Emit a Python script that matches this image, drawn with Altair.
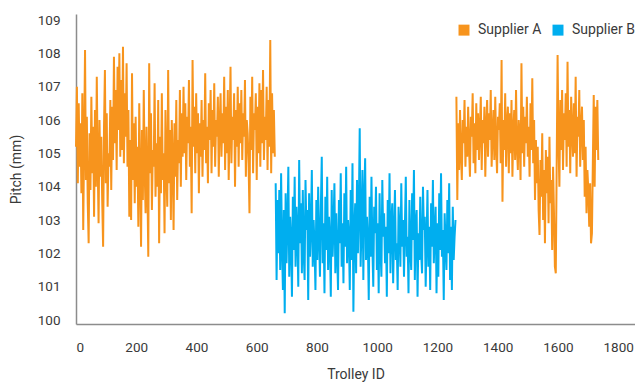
import altair as alt
import pandas as pd

# Supplier A, Trolley IDs 0..660 (step 3)
a1_pitch = [
    105.2, 107.0, 104.1, 106.5, 104.6, 105.9, 103.8, 106.8, 102.7, 105.4,
    108.1, 104.2, 106.1, 103.5, 102.3, 105.6, 103.9, 106.7, 104.4, 105.8,
    103.1, 106.3, 104.0, 107.3, 104.7, 102.9, 106.0, 104.3, 105.5, 103.6,
    102.2, 105.8, 107.5, 104.1, 106.2, 103.4, 105.0, 104.6, 106.6, 103.9,
    106.4, 104.8, 107.9, 105.3, 106.9, 104.5, 107.6, 105.7, 108.0, 104.9,
    107.2, 105.1, 108.2, 104.7, 106.8, 105.5, 107.7, 104.6, 106.3, 103.1,
    105.4, 103.0, 107.4, 104.2, 105.9, 103.5, 106.1, 104.0, 105.2, 102.8,
    106.5, 104.3, 102.2, 105.7, 103.6, 106.9, 104.5, 103.2, 105.8, 104.1,
    101.9, 107.7, 104.4, 106.2, 103.3, 105.1, 104.6, 107.1, 103.7, 105.3,
    104.0, 106.6, 102.3, 105.5, 103.8, 106.8, 104.2, 105.0, 102.6, 106.3,
    104.5, 103.4, 107.5, 104.1, 105.7, 103.0, 106.0, 104.8, 102.7, 105.9,
    104.3, 106.6, 103.6, 105.4, 104.7, 106.9, 104.0, 106.2, 104.9, 107.0,
    105.0, 106.5, 104.2, 106.1, 105.3, 107.2, 104.6, 105.8, 103.2, 107.8,
    105.2, 106.4, 104.4, 106.8, 105.0, 106.2, 103.8, 105.9, 104.9, 106.6,
    104.3, 106.0, 105.1, 107.4, 104.7, 105.8, 104.1, 106.5, 105.4, 106.9,
    104.4, 106.3, 105.2, 107.1, 104.6, 106.0, 105.5, 106.7, 104.3, 105.9,
    106.8, 104.9, 106.2, 105.3, 107.3, 104.5, 106.4, 105.0, 106.9, 104.2,
    105.8, 107.6, 104.7, 106.1, 105.4, 106.8, 104.0, 106.3, 105.2, 107.0,
    104.6, 106.5, 105.3, 106.9, 104.8, 106.2, 105.5, 107.2, 104.3, 106.0,
    105.6, 104.7, 103.2, 106.7, 105.1, 107.3, 104.4, 106.2, 105.7, 106.8,
    104.2, 106.4, 105.0, 107.1, 104.6, 106.9, 105.3, 107.5, 104.8, 106.1,
    105.4, 107.0, 104.5, 106.6, 105.2, 108.4, 104.4, 106.8, 105.0, 106.3, 104.9,
]

# Supplier B, Trolley IDs 663..1260 (step 3)
b_pitch = [
    104.1, 101.2, 103.6, 102.0, 103.9, 101.5, 104.4, 102.2, 100.9, 103.3,
    100.2, 103.8, 101.7, 102.9, 104.6, 101.3, 103.1, 102.4, 100.7, 103.7,
    102.1, 104.3, 101.6, 103.4, 102.6, 101.0, 104.8, 102.3, 103.5, 101.4,
    103.9, 102.0, 101.2, 104.2, 102.7, 103.3, 100.6, 103.8, 101.9, 102.8,
    104.5, 101.6, 103.0, 102.2, 100.9, 103.6, 101.8, 104.0, 102.5, 101.3,
    103.4, 104.9, 101.7, 102.9, 100.8, 103.7, 102.1, 104.3, 101.5, 103.1,
    102.4, 100.7, 103.9, 101.9, 102.8, 104.1, 101.4, 103.2, 102.0, 100.9,
    103.6, 102.3, 104.4, 101.6, 102.9, 101.1, 103.8, 102.2, 104.6, 101.7,
    103.0, 102.5, 100.9, 103.9, 101.8, 104.7, 100.25, 102.7, 103.5, 101.4,
    104.2, 102.0, 103.3, 105.75, 101.6, 102.8, 104.5, 101.2, 103.6, 104.85,
    101.8, 103.1, 102.4, 100.6, 103.7, 101.9, 104.3, 102.2, 101.0, 103.4,
    102.6, 104.0, 101.5, 102.9, 100.8, 103.8, 102.1, 101.3, 104.2, 102.5,
    103.2, 101.7, 102.8, 100.7, 103.6, 102.0, 104.4, 101.4, 102.9, 103.5,
    101.1, 102.6, 103.9, 101.8, 102.3, 100.9, 103.4, 102.7, 101.6, 104.1,
    102.2, 103.0, 101.3, 102.8, 104.3, 101.9, 102.5, 100.8, 103.6, 102.1,
    101.5, 103.8, 102.4, 104.5, 101.2, 102.9, 103.3, 100.7, 102.6, 101.8,
    103.7, 102.0, 101.4, 104.0, 102.7, 103.1, 101.0, 102.4, 103.9, 101.6,
    102.8, 100.9, 103.5, 102.2, 104.2, 101.7, 102.6, 103.4, 100.8, 102.9,
    101.3, 103.8, 102.1, 104.4, 101.9, 102.7, 100.6, 103.2, 102.3, 101.5,
    103.6, 102.0, 104.1, 101.2, 102.8, 100.9, 103.4, 101.8, 102.5, 103.0,
]

# Supplier A, Trolley IDs 1263..1734 (step 3)
a2_pitch = [
    106.7, 103.6, 105.9, 104.5, 106.3, 105.0, 104.2, 106.0, 105.3, 106.6,
    104.6, 105.8, 104.9, 106.4, 105.2, 104.3, 106.1, 105.5, 106.8, 104.7,
    105.9, 104.4, 106.5, 105.1, 106.2, 104.8, 105.7, 106.7, 104.5, 106.0,
    105.3, 106.4, 104.3, 105.8, 106.6, 104.9, 106.2, 105.4, 106.9, 104.6,
    105.6, 106.3, 104.8, 106.7, 105.2, 104.4, 106.1, 105.7, 106.5, 104.7,
    107.8, 103.55, 106.0, 105.1, 106.8, 104.6, 105.9, 106.4, 104.4, 106.2,
    105.0, 106.6, 104.3, 105.7, 106.3, 104.8, 106.9, 105.2, 104.5, 106.0,
    105.5, 104.2, 107.7, 105.0, 106.4, 104.6, 106.1, 105.3, 106.7, 104.9,
    105.8, 104.3, 106.5, 105.1, 107.25, 104.7, 106.0, 103.6, 105.4, 104.1,
    105.2, 103.3, 102.55, 104.8, 103.7, 105.6, 103.0, 104.5, 102.3, 105.1,
    103.8, 104.9, 102.9, 105.5, 103.5, 104.2, 102.1, 104.6, 103.2, 101.6,
    101.4, 104.7, 107.95, 105.3, 104.0, 106.6, 105.1, 106.9, 104.5, 106.2,
    105.4, 106.8, 104.6, 107.75, 105.2, 106.3, 104.4, 106.7, 105.7, 104.9,
    106.5, 105.0, 107.3, 104.3, 106.1, 105.5, 106.9, 104.6, 105.8, 106.4,
    104.8, 106.0, 103.7, 105.2, 103.2, 104.5, 103.9, 102.8, 104.1, 102.3,
    102.6, 104.7, 106.75, 104.0, 106.4, 105.1, 106.6, 104.8,
]

suppliers = ["Supplier A", "Supplier B"]
colors = ["#F7941D", "#00AEEF"]
x_ticks = [0, 200, 400, 600, 800, 1000, 1200, 1400, 1600, 1800]
y_ticks = [100, 101, 102, 103, 104, 105, 106, 107, 108, 109]

rows = []
for i, v in enumerate(a1_pitch):
    rows.append({"id": i * 3, "pitch": v, "supplier": "Supplier A", "seg": 1})
for i, v in enumerate(b_pitch):
    rows.append({"id": 663 + i * 3, "pitch": v, "supplier": "Supplier B", "seg": 2})
for i, v in enumerate(a2_pitch):
    rows.append({"id": 1263 + i * 3, "pitch": v, "supplier": "Supplier A", "seg": 3})
df = pd.DataFrame(rows)

FONT = "Roboto"

chart = alt.Chart(df).mark_line(strokeWidth=2).encode(
    x=alt.X("id:Q",
            scale=alt.Scale(domain=[0, 1856], nice=False, zero=False),
            axis=alt.Axis(title="Trolley ID", values=x_ticks, format="d", grid=False, ticks=False,
                          labelPadding=16, titlePadding=14)),
    y=alt.Y("pitch:Q",
            scale=alt.Scale(domain=[99.88, 109.18], nice=False, zero=False),
            axis=alt.Axis(title="Pitch (mm)", values=y_ticks, grid=False, ticks=False,
                          labelPadding=16, titlePadding=14)),
    color=alt.Color("supplier:N",
                    scale=alt.Scale(domain=suppliers, range=colors),
                    legend=alt.Legend(title=None, orient="none", direction="horizontal",
                                      legendX=381, legendY=9,
                                      symbolType="square", symbolSize=30,
                                      symbolStrokeWidth=5.5, labelOffset=7,
                                      columnPadding=2)),
    detail="seg:N",
    order="id:Q",
).properties(
    width=559,
    height=310,
    autosize=alt.AutoSizeParams(type="none"),
    padding={"left": 68, "top": 6, "right": 0, "bottom": 60},
).configure_view(
    stroke=None
).configure_axis(
    domainColor="#8c8c8c",
    domainWidth=1.5,
    labelFont=FONT,
    labelFontSize=13.5,
    labelColor="#3a3a3a",
    titleFont=FONT,
    titleFontSize=14,
    titleFontWeight="normal",
    titleColor="#3a3a3a",
).configure_legend(
    labelFont=FONT,
    labelFontSize=14,
    labelColor="#3a3a3a",
)

chart.save("out.html", embed_options={"renderer": "svg", "actions": False})
